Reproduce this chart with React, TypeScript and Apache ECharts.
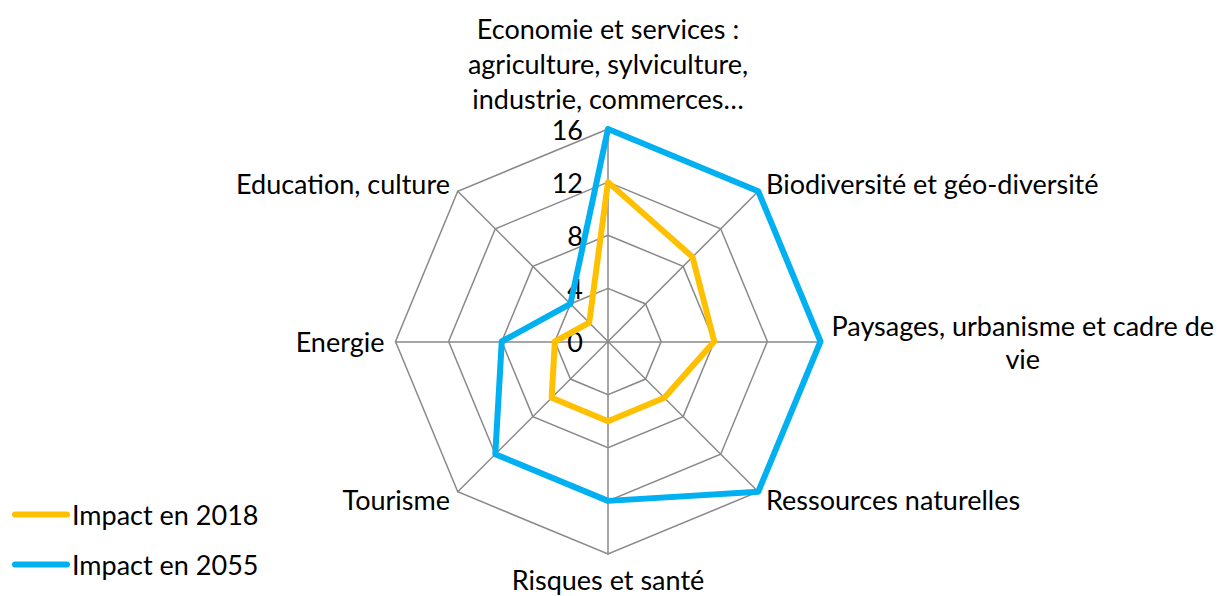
import React, { useEffect, useRef } from "react";
import * as echarts from "echarts";

// Categories in clockwise order starting from the top
const categories: string[] = [
  "Economie et services :\nagriculture, sylviculture,\nindustrie, commerces…",
  "Biodiversité et géo-diversité",
  "Paysages, urbanisme et cadre de vie",
  "Ressources naturelles",
  "Risques et santé",
  "Tourisme",
  "Energie",
  "Education, culture",
];
const impact2018: number[] = [12, 9, 8, 6, 6, 6, 4, 2];
const impact2055: number[] = [16, 16, 16, 16, 12, 12, 8, 4];
const seriesNames: string[] = ["Impact en 2018", "Impact en 2055"];
const axisMax = 16;
const axisSplit = 4;

const FONT = "Lato";
const FS = 27;

export default function App() {
  const ref = useRef<HTMLDivElement>(null);
  useEffect(() => {
    if (!ref.current) return;
    const chart = echarts.init(ref.current, undefined, { renderer: "svg" });
    const n = categories.length;
    // ECharts radar goes counter-clockwise: reorder to keep clockwise reading
    const order = categories.map((_, i) => (n - i) % n);
    const indicator = order.map((i, k) => ({
      name: categories[i],
      max: axisMax,
      min: 0,
      ...(k === 0 ? { axisLabel: { show: true } } : {}),
    }));
    const d18 = order.map((i) => impact2018[i]);
    const d55 = order.map((i) => impact2055[i]);
    const stadium = "path://M3,0 L55,0 A3,3 0 0 1 55,6 L3,6 A3,3 0 0 1 3,0 Z";
    chart.setOption({
      animation: false,
      backgroundColor: "#ffffff",
      textStyle: { fontFamily: FONT },
      legend: {
        orient: "vertical",
        left: 12,
        top: 501,
        padding: 0,
        itemWidth: 58,
        itemHeight: 6,
        itemGap: 23,
        data: seriesNames.map((s) => ({ name: s, icon: stadium })),
        textStyle: { fontFamily: FONT, fontSize: FS, color: "#000", lineHeight: 24, padding: [0, 0, 0, -3] },
      },
      radar: {
        center: [608, 341.5],
        radius: 212.5,
        startAngle: 90,
        splitNumber: axisSplit,
        shape: "polygon",
        nameGap: 11,
        axisName: {
          color: "#000",
          fontFamily: FONT,
          fontSize: FS,
          lineHeight: 35,
          formatter: (name: string) => {
            if (name.indexOf("Paysages") === 0)
              return "{c|Paysages, urbanisme et cadre de}\n{c|vie}";
            if (name.indexOf("Risques") === 0) return "{r|" + name + "}";
            return name;
          },
          rich: {
            c: { align: "center", color: "#000", fontFamily: FONT, fontSize: FS, lineHeight: 33 },
            r: { color: "#000", fontFamily: FONT, fontSize: FS, lineHeight: 29 },
          },
        },
        axisLabel: {
          show: false,
          color: "#000",
          fontFamily: FONT,
          fontSize: FS,
          margin: 25,
        },
        axisTick: { show: false },
        axisLine: { lineStyle: { color: "#898989", width: 1.5 } },
        splitLine: { lineStyle: { color: "#898989", width: 1.5 } },
        splitArea: { show: false },
        indicator,
      },
      series: [
        {
          type: "radar",
          symbol: "none",
          data: [
            {
              name: seriesNames[0],
              value: d18,
              lineStyle: { color: "#FFC000", width: 6, join: "round", cap: "round" },
              itemStyle: { color: "#FFC000" },
            },
            {
              name: seriesNames[1],
              value: d55,
              lineStyle: { color: "#00B0F0", width: 6, join: "round", cap: "round" },
              itemStyle: { color: "#00B0F0" },
            },
          ],
        },
      ],
    });
    return () => chart.dispose();
  }, []);
  return (
    <div
      ref={ref}
      style={{ position: "absolute", left: 0, top: 0, width: 1221, height: 596 }}
    />
  );
}
